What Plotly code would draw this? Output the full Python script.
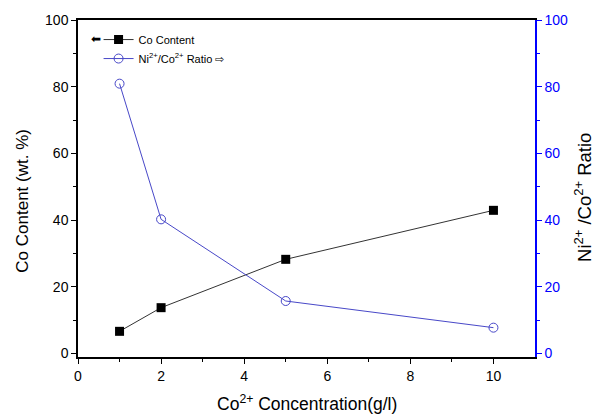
import plotly.graph_objects as go

conc = [1, 2, 5, 10]
co_content = [6.6, 13.7, 28.2, 42.9]
ni_co_ratio = [80.9, 40.2, 15.7, 7.7]

FONT = "Liberation Sans, Arial, sans-serif"
BLUE = "#0000ff"

fig = go.Figure()
fig.add_trace(go.Scatter(
    x=conc, y=co_content, mode="lines+markers", name="Co Content",
    line=dict(color="#333333", width=1),
    marker=dict(symbol="square", size=9, color="black"),
))
fig.add_trace(go.Scatter(
    x=conc, y=ni_co_ratio, mode="lines+markers", name="Ni<sup>2+</sup>/Co<sup>2+</sup> Ratio ⇨",
    line=dict(color="#4848c8", width=1),
    marker=dict(symbol="circle-open", size=9, color="#4848c8", line=dict(width=1)),
    yaxis="y2",
))

fig.update_layout(
    width=605, height=414,
    margin=dict(l=78, r=70, t=20, b=57, autoexpand=False),
    paper_bgcolor="white", plot_bgcolor="white",
    font=dict(family=FONT, size=14, color="black"),
    showlegend=True,
    legend=dict(x=0.045, y=0.985, xanchor="left", yanchor="top",
                bgcolor="rgba(0,0,0,0)", font=dict(size=11, family=FONT),
                itemwidth=30, tracegroupgap=0),
    xaxis=dict(
        range=[0, 11], tickvals=[0, 2, 4, 6, 8, 10],
        showline=True, linecolor="black", linewidth=1.5, mirror=True,
        ticks="outside", ticklen=5, tickcolor="black",
        minor=dict(tickvals=[1, 3, 5, 7, 9], ticks="outside", ticklen=3, tickcolor="black"),
        showgrid=False, zeroline=False, automargin=False,
        tickfont=dict(size=14),
    ),
    yaxis=dict(
        range=[-1.1, 100], tickvals=[0, 20, 40, 60, 80, 100],
        showline=True, linecolor="black", linewidth=1.5,
        ticks="outside", ticklen=5, tickcolor="black",
        minor=dict(tickvals=[10, 30, 50, 70, 90], ticks="outside", ticklen=3, tickcolor="black"),
        showgrid=False, zeroline=False, automargin=False,
        tickfont=dict(size=14),
    ),
    yaxis2=dict(
        range=[-1.1, 100], tickvals=[0, 20, 40, 60, 80, 100],
        overlaying="y", side="right",
        showline=True, linecolor=BLUE, linewidth=1.5,
        ticks="outside", ticklen=5, tickcolor=BLUE,
        minor=dict(tickvals=[10, 30, 50, 70, 90], ticks="outside", ticklen=3, tickcolor=BLUE),
        showgrid=False, zeroline=False, automargin=False,
        tickfont=dict(size=14, color=BLUE),
    ),
    annotations=[
        dict(text="⬅", x=0.055, y=0.943, xref="paper", yref="paper",
             showarrow=False, font=dict(size=12, color="black"), xanchor="right", yanchor="middle"),
        dict(text="Co<sup>2+</sup> Concentration(g/l)", x=0.5, y=-0.1365, xref="paper", yref="paper",
             showarrow=False, font=dict(size=17.5, color="black"), xanchor="center", yanchor="middle"),
        dict(text="Co Content (wt. %)", x=-0.121, y=0.463, xref="paper", yref="paper",
             showarrow=False, textangle=-90, font=dict(size=17, color="black"),
             xanchor="center", yanchor="middle"),
        dict(text="Ni<sup>2+</sup> /Co<sup>2+</sup> Ratio", x=1.105, y=0.475, xref="paper", yref="paper",
             showarrow=False, textangle=-90, font=dict(size=18.5, color="black"),
             xanchor="center", yanchor="middle"),
    ],
)

fig.write_html("out.html", post_script="document.body.style.margin='0';",
               config={"displayModeBar": False})
